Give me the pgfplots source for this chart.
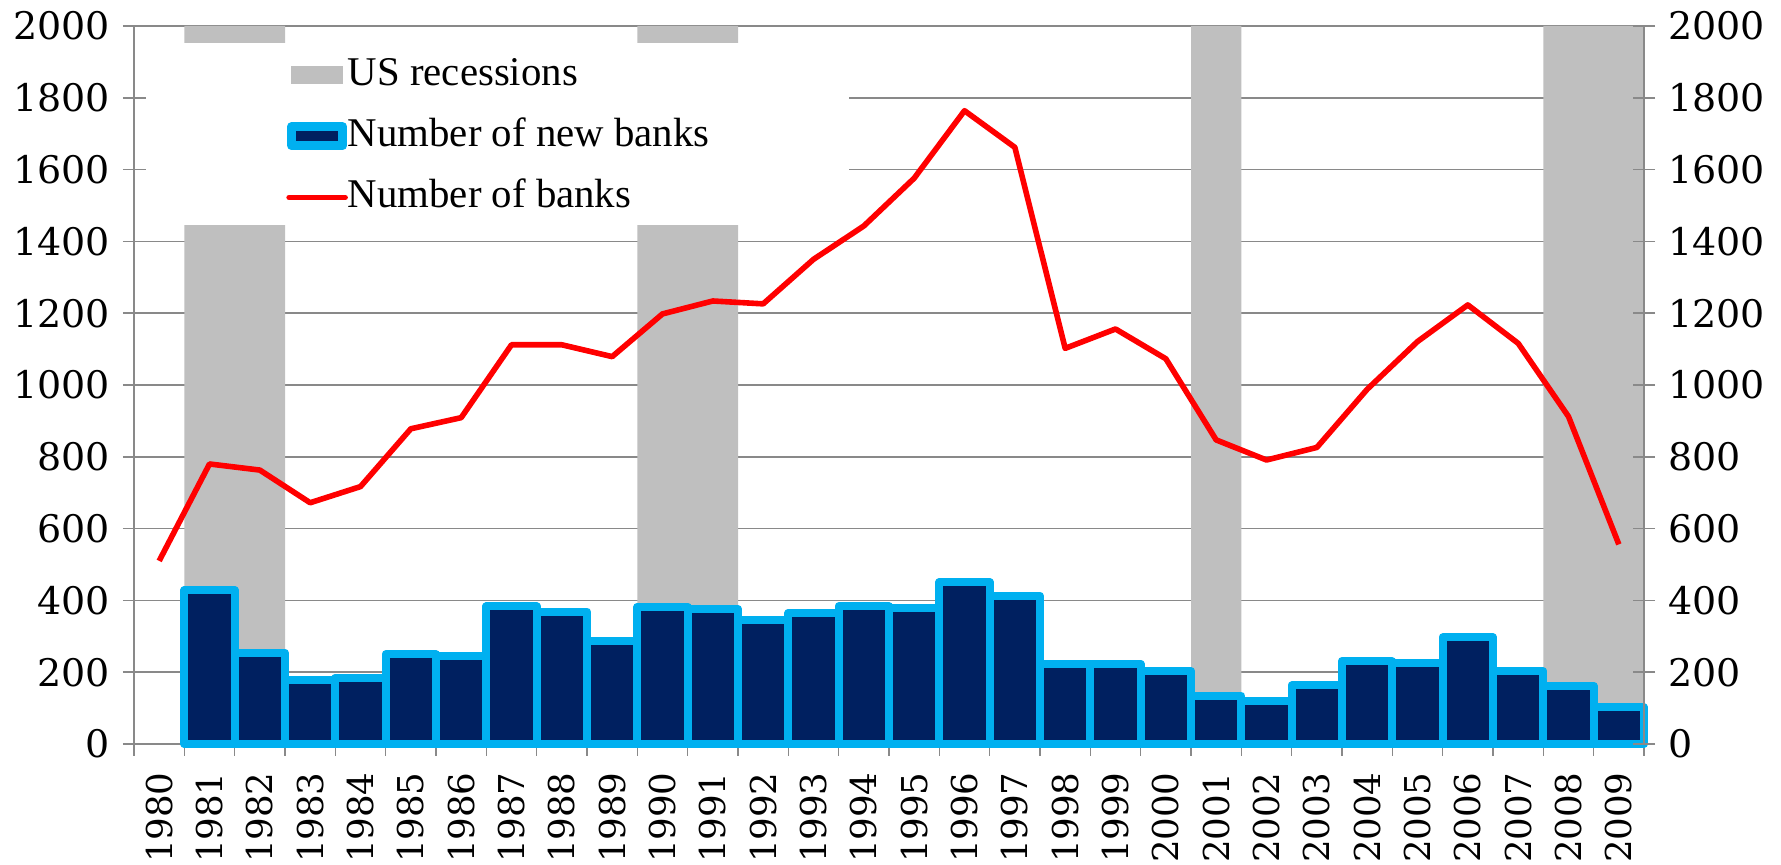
\documentclass[border=0pt]{standalone}
\usepackage[no-math]{fontspec}
\setmainfont{Liberation Serif}
\newfontfamily\tickfont{DejaVu Serif}
\usepackage{pgfplots}
\pgfplotsset{compat=1.18}
\usetikzlibrary{calc}
\definecolor{recgray}{HTML}{BFBFBF}
\definecolor{gridgray}{HTML}{898989}
\definecolor{navyB}{HTML}{002060}
\definecolor{cyanB}{HTML}{00B0F0}
\definecolor{lineRed}{HTML}{FF0000}

\pgfplotsset{
  commonaxis/.style={
    scale only axis, width=755pt, height=359pt,
    xmin=-0.5, xmax=29.5, ymin=0, ymax=2000,
    ytick={0,200,...,2000},
    /pgf/number format/1000 sep={},
    /pgf/number format/assume math mode=true,
    axis line style={gridgray, line width=0.8pt},
    tick style={gridgray, line width=0.8pt},
    tick align=center, major tick length=11pt,
    yticklabel style={font=\tickfont\fontsize{19}{23}\selectfont},
  }
}

\begin{document}
\begin{tikzpicture}
\begin{axis}[name=main, commonaxis,
  clip=false,
  axis x line*=bottom, axis y line*=left,
  ymajorgrids, grid style={gridgray, line width=0.8pt},
  xtick={0,...,29},
  xticklabels={1980,1981,1982,1983,1984,1985,1986,1987,1988,1989,1990,1991,1992,1993,1994,1995,1996,1997,1998,1999,2000,2001,2002,2003,2004,2005,2006,2007,2008,2009},
  major x tick style={draw=none},
  minor xtick={-0.5,0.5,...,29.5},
  minor tick length=6pt,
  minor x tick style={gridgray, line width=0.8pt, yshift=-3pt},
  xticklabel style={font=\tickfont\fontsize{17.8}{22}\selectfont, rotate=90, anchor=east, inner sep=1pt},
  xticklabel shift=7.5pt,
  yticklabel style={xshift=-3pt},
  legend style={at={(0.0079,0.9768)}, anchor=north west, fill=white, draw=none,
    inner xsep=70pt, inner ysep=7pt, row sep=14.5pt,
    font=\fontsize{20.4}{24}\selectfont,
    nodes={inner sep=0pt, text height=14pt, text depth=2pt}},
  legend cell align=left,
]
\addplot[ybar, bar width=1, bar shift=0pt, fill=recgray, draw=none,
  legend image code/.code={\fill[recgray] (2pt,-5.6pt) rectangle (28pt,3.4pt);}]
  coordinates {(1,2000)(2,2000)(10,2000)(11,2000)(21,2000)(28,2000)(29,2000)};
\addlegendentry{US recessions}
\addplot[ybar, bar width=1, bar shift=0pt, fill=navyB, draw=cyanB, line width=4pt, line join=round,
  legend image code/.code={\draw[fill=navyB, draw=cyanB, line width=4.5pt, line join=round] (2.25pt,-5.85pt) rectangle (27.75pt,3.65pt);}]
  coordinates {
  (1,428)(2,254)(3,178)(4,184)(5,250)(6,245)(7,383)(8,369)(9,287)
  (10,382)(11,376)(12,345)(13,365)(14,384)(15,380)(16,451)(17,413)(18,224)(19,223)
  (20,203)(21,135)(22,121)(23,163)(24,231)(25,225)(26,297)(27,203)(28,162)(29,102)};
\addlegendentry{Number of new banks}
\addplot[lineRed, line width=2.8pt, line join=round, mark=none,
  legend image code/.code={\draw[lineRed, line width=2.8pt, line cap=round] (1pt,-1.1pt) -- (29pt,-1.1pt);}]
  coordinates {
  (0,510)(1,780)(2,763)(3,672)(4,717)(5,878)(6,909)(7,1112)(8,1112)(9,1079)
  (10,1198)(11,1234)(12,1226)(13,1350)(14,1443)(15,1576)(16,1764)(17,1662)(18,1102)(19,1156)
  (20,1073)(21,847)(22,791)(23,826)(24,988)(25,1121)(26,1223)(27,1116)(28,912)(29,556)};
\addlegendentry{Number of banks}
\end{axis}
\begin{axis}[commonaxis,
  axis x line=none, axis y line*=right,
  yticklabel style={xshift=3pt},
]
\addplot[draw=none] coordinates {(0,0)};
\end{axis}
\pgfresetboundingbox
\path ($(main.south west)+(-67pt,-60.5pt)$) rectangle ($(main.north east)+(68.5pt,13pt)$);
\end{tikzpicture}
\end{document}
